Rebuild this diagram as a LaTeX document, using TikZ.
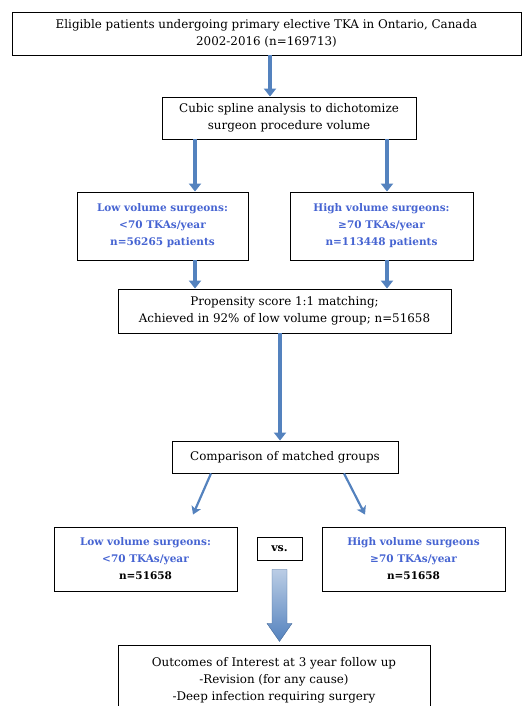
\documentclass[tikz,border=0pt]{standalone}
\usepackage{fontspec}
\setmainfont{DejaVu Serif}
\usetikzlibrary{arrows.meta,calc}
\definecolor{arrowblue}{RGB}{84,130,190}
\definecolor{textblue}{RGB}{70,100,210}
\newcommand{\grp}[1]{{\fontsize{10.5}{17}\selectfont\bfseries\color{textblue}#1}}
\newcommand{\cnt}[1]{{\fontsize{10.5}{17}\selectfont\bfseries #1}}
\tikzstyle{bx}=[shape=rectangle,draw,line width=0.9pt,fill=white,inner sep=0pt,align=center,font=\fontsize{11.9}{17}\selectfont]
\tikzstyle{to}=[-{Triangle[width=12pt,length=8pt]},draw=arrowblue,line width=3.5pt]
\tikzstyle{tothin}=[-{Stealth[width=10pt,length=8pt,inset=2pt]},draw=arrowblue,line width=2.2pt]
\begin{document}
\begin{tikzpicture}[x=1pt,y=-1pt]
    \useasboundingbox (0,0) rectangle (525,706);
        \node[bx, minimum width=509pt, minimum height=43pt] (elig) at (266.5, 33.5)
            {Eligible patients undergoing primary elective TKA in Ontario, Canada\\2002-2016 (n=169713)}
        ;
        \node[bx, minimum width=254pt, minimum height=42pt] (spline) at (289, 118)
            {Cubic spline analysis to dichotomize\\surgeon procedure volume}
        ;
        \node[bx, minimum width=171pt, minimum height=68pt] (lowvol) at (162.5, 226)
            {\grp{Low volume surgeons:}\\\grp{<70 TKAs/year}\\\grp{n=56265 patients}}
        ;
        \node[bx, minimum width=183pt, minimum height=68pt] (highvol) at (381.5, 226)
            {\grp{High volume surgeons:}\\\grp{≥70 TKAs/year}\\\grp{n=113448 patients}}
        ;
        \node[bx, minimum width=333pt, minimum height=44pt] (match) at (284.5, 311)
            {Propensity score 1:1 matching;\\Achieved in 92\% of low volume group; n=51658}
        ;
        \node[bx, minimum width=226pt, minimum height=32pt] (compare) at (285, 457)
            {Comparison of matched groups}
        ;
        \node[bx, minimum width=183pt, minimum height=64pt] (lowmatch) at (145.5, 559)
            {\grp{Low volume surgeons:}\\\grp{<70 TKAs/year}\\\cnt{n=51658}}
        ;
        \node[bx, minimum width=45pt, minimum height=23pt, font=\fontsize{11}{13}\selectfont\bfseries] (vs) at (279.5, 548.5)
            {vs.}
        ;
        \node[bx, minimum width=183pt, minimum height=64pt] (highmatch) at (413.5, 559)
            {\grp{High volume surgeons}\\\grp{≥70 TKAs/year}\\\cnt{n=51658}}
        ;
        \node[bx, minimum width=312pt, minimum height=70pt] (outcome) at (274, 680)
            {Outcomes of Interest at 3 year follow up\\-Revision (for any cause)\\-Deep infection requiring surgery}
        ;
        % straight arrows
        \draw[to] ($(elig.south)+(3.5,0)$) coordinate (a1) -- (a1 |- spline.north);
        \draw[to] ($(spline.south)+(-94,0)$) coordinate (a2) -- (a2 |- lowvol.north);
        \draw[to] ($(spline.south)+(98,0)$) coordinate (a3) -- (a3 |- highvol.north);
        \draw[to] ($(lowvol.south)+(32.5,0)$) coordinate (a4) -- (a4 |- match.north);
        \draw[to] ($(highvol.south)+(5.5,0)$) coordinate (a5) -- (a5 |- match.north);
        \draw[to] ($(match.south)+(-4.5,0)$) coordinate (a6) -- (a6 |- compare.north);
        % diagonal arrows
        \draw[tothin] ($(compare.south)+(-74,0)$) -- ($(lowmatch.north)+(47.5,-12)$);
        \draw[tothin] ($(compare.south)+(59,0)$) -- ($(highmatch.north)+(-48.5,-12)$);
        % big arrow
        \shade[top color=arrowblue!40!white, bottom color=arrowblue, draw=arrowblue!80!black, line width=0.4pt]
            ($(vs.south)+(-7.5,9)$) -- ($(vs.south)+(7.5,9)$) -- ($(vs.south)+(7.5,63)$)
            -- ($(vs.south)+(12.5,63)$) -- ($(vs.south)+(0,81)$) -- ($(vs.south)+(-12.5,63)$)
            -- ($(vs.south)+(-7.5,63)$) -- cycle;
    \end{tikzpicture}
\end{document}
